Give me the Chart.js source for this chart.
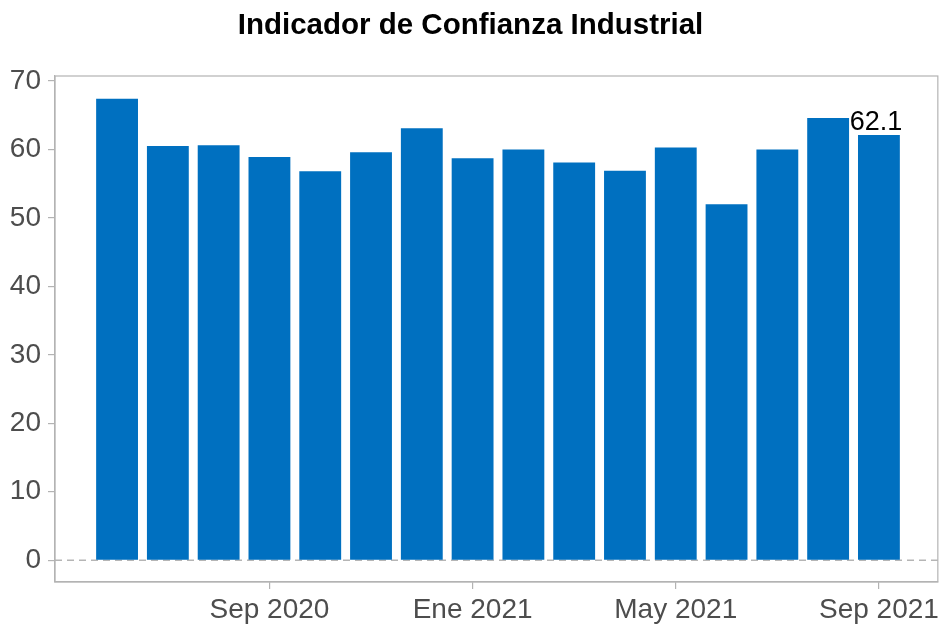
<!DOCTYPE html>
<html>
<head>
<meta charset="utf-8">
<script src="https://cdn.jsdelivr.net/npm/chart.js@4.4.1/dist/chart.umd.min.js"></script>
<style>
  html, body { margin: 0; padding: 0; background: #fff; }
  #wrap { width: 943px; height: 625px; }
</style>
</head>
<body>
<div id="wrap"><canvas id="grafico"></canvas></div>
<script>
// meses jun 2020 - sep 2021
var meses = ["Jun 2020","Jul 2020","Ago 2020","Sep 2020","Oct 2020","Nov 2020","Dic 2020","Ene 2021",
             "Feb 2021","Mar 2021","Abr 2021","May 2021","Jun 2021","Jul 2021","Ago 2021","Sep 2021"];
var valores = [67.4, 60.5, 60.6, 58.9, 56.8, 59.6, 63.1, 58.7, 60.0, 58.1, 56.9, 60.3, 52.0, 60.0, 64.6, 62.1];
var ticksX = [3, 7, 11, 15];            // posiciones de los meses rotulados
var etiquetasX = ["Sep 2020", "Ene 2021", "May 2021", "Sep 2021"];
var ticksY = [0, 10, 20, 30, 40, 50, 60, 70];

var puntos = valores.map(function (v, i) { return { x: i, y: v }; });

var gris = '#b3b3b3';
var fuente = "'Liberation Sans', Arial, sans-serif";

// marco del panel, linea punteada en cero y etiqueta del ultimo valor
var extras = {
  id: 'extras',
  beforeDatasetsDraw: function (chart) {
    var ctx = chart.ctx, a = chart.chartArea;
    var y0 = chart.scales.y.getPixelForValue(0);
    ctx.save();
    ctx.strokeStyle = '#b5b5b5';
    ctx.lineWidth = 1.7;
    ctx.setLineDash([7, 5]);
    ctx.beginPath();
    ctx.moveTo(a.left, y0);
    ctx.lineTo(a.right, y0);
    ctx.stroke();
    ctx.restore();
  },
  afterDatasetsDraw: function (chart) {
    var ctx = chart.ctx, a = chart.chartArea;
    ctx.save();
    ctx.strokeStyle = gris;
    ctx.lineWidth = 1.2;
    ctx.strokeRect(a.left, a.top, a.right - a.left, a.bottom - a.top);
    var barras = chart.getDatasetMeta(0).data;
    var ult = barras[barras.length - 1];
    ctx.fillStyle = '#000';
    ctx.font = "27px " + fuente;
    ctx.textAlign = 'center';
    ctx.textBaseline = 'alphabetic';
    ctx.fillText(valores[valores.length - 1].toFixed(1), ult.x - 3, ult.y - 5);
    ctx.restore();
  }
};

new Chart(document.getElementById('grafico'), {
  type: 'bar',
  data: {
    datasets: [{
      data: puntos,
      backgroundColor: '#0070C0',
      borderWidth: 0,
      barPercentage: 0.824,
      categoryPercentage: 1
    }]
  },
  plugins: [extras],
  options: {
    responsive: true,
    maintainAspectRatio: false,
    animation: false,
    layout: { padding: { top: 0, right: 2, bottom: 0, left: 0 } },
    plugins: {
      legend: { display: false },
      tooltip: { enabled: false },
      title: {
        display: true,
        text: 'Indicador de Confianza Industrial',
        color: '#000',
        font: { family: fuente, size: 29.5, weight: 'bold' },
        padding: { top: 8, bottom: 32.6 }
      }
    },
    scales: {
      x: {
        type: 'linear',
        offset: false,
        min: -1.222,
        max: 16.16,
        afterBuildTicks: function (s) { s.ticks = ticksX.map(function (v) { return { value: v }; }); },
        afterFit: function (s) { s.height = 43; },
        ticks: {
          color: '#4d4d4d',
          font: { family: fuente, size: 28 },
          padding: 4,
          maxRotation: 0,
          autoSkip: false,
          callback: function (v) { return etiquetasX[ticksX.indexOf(v)]; }
        },
        grid: { offset: false, drawOnChartArea: false, color: gris, tickLength: 7, lineWidth: 1.2 },
        border: { color: gris, width: 1.2 }
      },
      y: {
        min: -3.18,
        max: 70.73,
        afterBuildTicks: function (s) { s.ticks = ticksY.map(function (v) { return { value: v }; }); },
        afterFit: function (s) { s.width = 55; },
        ticks: {
          color: '#4d4d4d',
          font: { family: fuente, size: 28 },
          padding: 7
        },
        grid: { drawOnChartArea: false, color: gris, tickLength: 7, lineWidth: 1.2 },
        border: { color: gris, width: 1.2 }
      }
    }
  }
});
</script>
</body>
</html>
